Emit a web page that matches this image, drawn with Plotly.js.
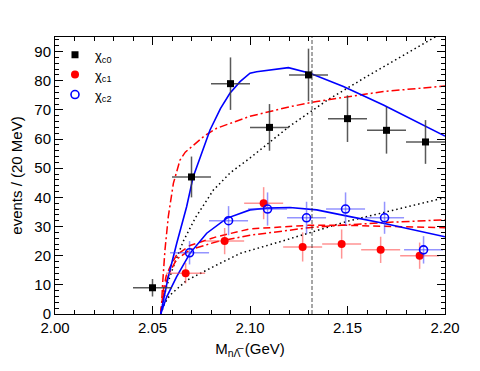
<!DOCTYPE html>
<html><head><meta charset="utf-8">
<script src="https://cdn.plot.ly/plotly-3.0.1.min.js"></script>
<style>html,body{margin:0;padding:0;background:#fff}#chart{width:480px;height:371px}</style>
</head><body><div id="chart"></div>
<script>
// ---- data points ----
const c0X = [2.05, 2.07, 2.09, 2.11, 2.13, 2.15, 2.17, 2.19];
const c0Y = [9, 47, 79, 64, 82, 67, 63, 59];
const c0E = [3, 7, 9, 8, 9, 8, 8, 7.5];
const c1X = [2.067, 2.087, 2.107, 2.127, 2.147, 2.167, 2.187];
const c1Y = [14, 25, 38, 23, 24, 22, 20];
const c1E = [3.5, 4.5, 5.5, 5, 5, 4.5, 4.5];
const c2X = [2.069, 2.089, 2.109, 2.129, 2.149, 2.169, 2.189];
const c2Y = [21, 32, 36, 33, 36, 33, 22];
const c2E = [4, 5, 5.7, 5.5, 5.7, 5.5, 4.7];
const binHalf = 0.01;

// ---- curves ----
const fitC0X = [2.0542, 2.0581, 2.0624, 2.0675, 2.0709, 2.0748, 2.0795, 2.0849, 2.0897, 2.0949, 2.1, 2.1034, 2.1197, 2.1308, 2.1479, 2.1684, 2.2];
const fitC0Y = [0, 12.8, 24.2, 36.8, 47.1, 54.5, 63.1, 70.5, 75.7, 79.7, 82.6, 83.1, 84.5, 82.6, 78, 71.7, 61];
const fitC2X = [2.0542, 2.0573, 2.0624, 2.0692, 2.0778, 2.088, 2.1, 2.1085, 2.1205, 2.1342, 2.1513, 2.1684, 2.2];
const fitC2Y = [0, 5.9, 12.8, 20.8, 27.7, 32.8, 35.7, 36.3, 36.5, 35.7, 33.4, 31.1, 26.5];
const ddUpX = [2.0542, 2.0547, 2.0552, 2.0564, 2.0581, 2.0607, 2.0641, 2.0668, 2.0765, 2.0829, 2.1, 2.1205, 2.1342, 2.1513, 2.1684, 2.2];
const ddUpY = [0, 3.7, 10.5, 22, 33.4, 44.8, 52.8, 55.5, 61, 63.7, 67.8, 71.1, 72.9, 74.5, 76.3, 78.2];
const ddLoX = [2.0542, 2.0555, 2.057, 2.059, 2.0624, 2.0692, 2.0829, 2.1, 2.1154, 2.13, 2.15, 2.17, 2.2];
const ddLoY = [0, 6, 11, 14.5, 18.8, 22, 24.8, 27, 28.3, 29.6, 30.6, 31.4, 32.3];
const dashX = [2.0542, 2.0555, 2.057, 2.059, 2.0624, 2.0692, 2.0829, 2.1, 2.1154, 2.13, 2.15, 2.17, 2.2];
const dashY = [0, 8, 13, 16.2, 20.3, 23.5, 26.5, 29.2, 29.8, 30.4, 30.4, 30.1, 29.6];
const dotUpX = [2.0542, 2.057, 2.0607, 2.0658, 2.072, 2.0812, 2.09, 2.1, 2.1205, 2.14, 2.16, 2.1957, 2.2];
const dotUpY = [0, 9, 16.2, 25, 33, 42.5, 48.5, 53.5, 64.5, 73.5, 81.5, 95.4, 97];
const dotLoX = [2.0542, 2.0565, 2.059, 2.0675, 2.0829, 2.095, 2.115, 2.15, 2.2];
const dotLoY = [0, 4, 6.5, 11.5, 16.8, 20.8, 24.7, 31.8, 39.9];
const thresholdX = 2.1318;

const xTitle = 'M<sub>n\u039B\u0305</sub> (GeV)';
const yTitle = 'events / (20 MeV)';
const names = ['\u03C7<sub>c0</sub>', '\u03C7<sub>c1</sub>', '\u03C7<sub>c2</sub>'];

function line(x, y, color, dash, width) {
  return {x: x, y: y, mode: 'lines', type: 'scatter', showlegend: false, hoverinfo: 'skip',
          line: {color: color, dash: dash, width: width}};
}
function pts(x, y, e, name, marker, ecolor) {
  return {x: x, y: y, mode: 'markers', type: 'scatter', name: name, marker: marker,
    error_y: {type: 'data', array: e, color: ecolor, thickness: 1.5, width: 0},
    error_x: {type: 'constant', value: binHalf, color: ecolor, thickness: 1.5, width: 0}};
}

const traces = [
  line(dotUpX, dotUpY, '#000', '1.5px,3px', 1.5),
  line(dotLoX, dotLoY, '#000', '1.5px,3px', 1.5),
  line(ddUpX, ddUpY, '#ff0000', '8px,3px,2px,3px', 1.5),
  line(ddLoX, ddLoY, '#ff0000', '8px,3px,2px,3px', 1.5),
  line(dashX, dashY, '#ff0000', '7px,4px', 1.5),
  line(fitC0X, fitC0Y, '#0000ff', 'solid', 1.6),
  line(fitC2X, fitC2Y, '#0000ff', 'solid', 1.6),
  pts(c0X, c0Y, c0E, names[0], {symbol: 'square', size: 7, color: '#000'}, 'rgba(60,60,60,0.85)'),
  pts(c1X, c1Y, c1E, names[1], {symbol: 'circle', size: 8, color: '#ff0000'}, 'rgba(255,60,60,0.55)'),
  pts(c2X, c2Y, c2E, names[2], {symbol: 'circle-open', size: 8, color: '#0000ff', line: {width: 1.6, color: '#0000ff'}}, 'rgba(60,60,255,0.55)')
];

const axisCommon = {
  showline: true, linecolor: '#000', linewidth: 1, mirror: 'ticks',
  ticks: 'inside', ticklen: 8, tickwidth: 1, tickcolor: '#000',
  showgrid: false, zeroline: false,
  tickfont: {family: 'Liberation Sans, Arial, sans-serif', size: 15, color: '#000'}
};

const layout = {
  width: 480, height: 371,
  margin: {l: 55, r: 35, t: 37, b: 57},
  paper_bgcolor: '#fff', plot_bgcolor: '#fff',
  font: {family: 'Liberation Sans, Arial, sans-serif', color: '#000'},
  xaxis: Object.assign({}, axisCommon, {
    range: [2.0, 2.2], dtick: 0.05, tickformat: '.2f',
    minor: {dtick: 0.01, ticklen: 4, ticks: 'inside', tickcolor: '#000'},
    title: {text: xTitle, font: {size: 15}, standoff: 8}
  }),
  yaxis: Object.assign({}, axisCommon, {
    range: [0, 95], dtick: 10,
    minor: {dtick: 2, ticklen: 4, ticks: 'inside', tickcolor: '#000'},
    title: {text: yTitle, font: {size: 15}, standoff: 8}
  }),
  legend: {x: 0.0, y: 0.99, xanchor: 'left', yanchor: 'top', bgcolor: 'rgba(0,0,0,0)',
           font: {size: 13}, tracegroupgap: 0},
  shapes: [{type: 'line', xref: 'x', yref: 'paper', x0: thresholdX, x1: thresholdX, y0: 0, y1: 1,
            line: {color: '#222', width: 0.8, dash: '4px,2px'}}]
};

Plotly.newPlot('chart', traces, layout, {staticPlot: true, displayModeBar: false});
</script></body></html>
